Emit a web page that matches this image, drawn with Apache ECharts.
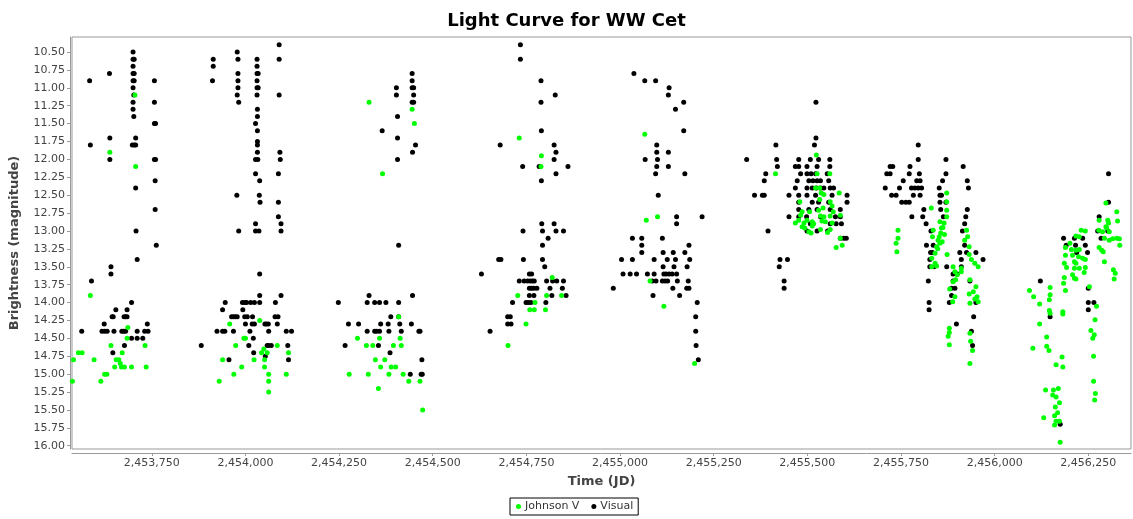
<!DOCTYPE html>
<html>
<head>
<meta charset="utf-8">
<title>Light Curve for WW Cet</title>
<script src="https://cdn.jsdelivr.net/npm/echarts@6/dist/echarts.min.js"></script>
<style>
  html, body { margin: 0; padding: 0; background: #fff; }
  #chart { width: 1133px; height: 519px; }
</style>
</head>
<body>
<div id="chart"></div>
<script>
// Tick labels
var xTicks = [2453750, 2454000, 2454250, 2454500, 2454750, 2455000, 2455250, 2455500, 2455750, 2456000, 2456250];
var yTicks = [10.5, 10.75, 11, 11.25, 11.5, 11.75, 12, 12.25, 12.5, 12.75, 13, 13.25, 13.5, 13.75,
    14, 14.25, 14.5, 14.75, 15, 15.25, 15.5, 15.75, 16];

// Johnson V observations [JD, magnitude]
var johnsonV = [
    [2453541, 14.8], [2453538, 15.1], [2453554, 14.7], [2453564, 14.7], [2453586, 13.9], [2453596, 14.8],
    [2453614, 15.1], [2453624, 15.0], [2453630, 15.0], [2453638, 11.9], [2453641, 14.6], [2453655, 14.8],
    [2453662, 14.8], [2453666, 14.85], [2453669, 14.9], [2453677, 14.9], [2453671, 14.7], [2453651, 14.9],
    [2453686, 14.35], [2453684, 14.5], [2453696, 14.9], [2453705, 11.1], [2453707, 12.1], [2453732, 14.6],
    [2453735, 14.9],
    [2453930, 15.1], [2453939, 14.8], [2453958, 14.3], [2453969, 15.0], [2453974, 14.6], [2453990, 14.9],
    [2453996, 14.5], [2454000, 14.5], [2454023, 14.8], [2454038, 14.25], [2454043, 14.7], [2454049, 14.65],
    [2454058, 14.7], [2454051, 14.8], [2454051, 14.9], [2454062, 15.0], [2454062, 15.1], [2454062, 15.25],
    [2454085, 14.6], [2454109, 15.0], [2454115, 14.7],
    [2454330, 11.2], [2454366, 12.2], [2454445, 11.3], [2454451, 11.5], [2454277, 15.0], [2454299, 14.5],
    [2454323, 14.6], [2454340, 14.6], [2454328, 15.0], [2454347, 14.8], [2454372, 14.8], [2454355, 15.2],
    [2454358, 14.5], [2454361, 14.9], [2454383, 15.0], [2454389, 14.9], [2454401, 14.9], [2454395, 14.6],
    [2454409, 14.2], [2454413, 14.5], [2454416, 14.6], [2454421, 15.0], [2454436, 15.1], [2454466, 15.1],
    [2454473, 15.5],
    [2454731, 11.7], [2454790, 11.95], [2454789, 12.1], [2454819, 13.65], [2454727, 13.9], [2454804, 13.9],
    [2454844, 13.9], [2454773, 14.0], [2454759, 14.1], [2454771, 14.1], [2454801, 14.1], [2454749, 14.3],
    [2454701, 14.6],
    [2455066, 11.65], [2455070, 12.85], [2455100, 12.8], [2455080, 13.7], [2455117, 14.05], [2455199, 14.85],
    [2455524, 11.94], [2455415, 12.2], [2455526, 12.2], [2455560, 12.2], [2455522, 12.4], [2455533, 12.4],
    [2455537, 12.47], [2455544, 12.49], [2455585, 12.47], [2455533, 12.56], [2455561, 12.59], [2455480, 12.59],
    [2455566, 12.65], [2455542, 12.68], [2455530, 12.71], [2455486, 12.73], [2455506, 12.73], [2455569, 12.73],
    [2455482, 12.78], [2455588, 12.78], [2455535, 12.79], [2455561, 12.79], [2455544, 12.8], [2455477, 12.85],
    [2455499, 12.85], [2455513, 12.87], [2455539, 12.86], [2455468, 12.89], [2455491, 12.89], [2455517, 12.9],
    [2455548, 12.87], [2455566, 12.89], [2455486, 12.94], [2455513, 12.93], [2455535, 12.98], [2455561, 12.98],
    [2455493, 12.96], [2455504, 13.01], [2455510, 13.03], [2455554, 13.02], [2455588, 13.1], [2455593, 13.2],
    [2455577, 13.23],
    [2455831, 12.68], [2455872, 12.47], [2455872, 12.59], [2455872, 12.71], [2455872, 12.8], [2455865, 12.89],
    [2455854, 12.87], [2455858, 12.96], [2455856, 13.03], [2455852, 13.08], [2455849, 13.13], [2455845, 13.22],
    [2455854, 13.17], [2455841, 13.31], [2455836, 12.99], [2455834, 13.08], [2455862, 12.95], [2455866, 13.05],
    [2455860, 13.15], [2455848, 13.25],
    [2455742, 12.99], [2455742, 13.1], [2455737, 13.17], [2455739, 13.29],
    [2455873, 13.33], [2455832, 13.38], [2455841, 13.45], [2455845, 13.49], [2455832, 13.5],
    [2455925, 12.99], [2455928, 13.08], [2455920, 13.13], [2455932, 13.22], [2455932, 13.33], [2455938, 13.4],
    [2455947, 13.45], [2455956, 13.5],
    [2455889, 13.5], [2455894, 13.57], [2455900, 13.61], [2455896, 13.68], [2455889, 13.71], [2455880, 13.81],
    [2455894, 13.92], [2455888, 13.99], [2455911, 13.52], [2455911, 13.57],
    [2455934, 13.68], [2455950, 13.78], [2455943, 13.85], [2455932, 13.88], [2455953, 13.92], [2455947, 13.95],
    [2455934, 14.01], [2455956, 13.99],
    [2455879, 14.36], [2455879, 14.42], [2455876, 14.47], [2455879, 14.59],
    [2455934, 14.43], [2455936, 14.54], [2455941, 14.67], [2455934, 14.85],
    [2456297, 12.61], [2456326, 12.73], [2456328, 12.86], [2456279, 12.85], [2456302, 12.85], [2456304, 12.89],
    [2456297, 12.94], [2456278, 12.99], [2456306, 13.01], [2456288, 13.01], [2456299, 12.96],
    [2456326, 13.1], [2456333, 13.11], [2456334, 13.2], [2456315, 13.11], [2456293, 13.1], [2456306, 13.13],
    [2456279, 13.23], [2456286, 13.27], [2456290, 13.29], [2456293, 13.43], [2456317, 13.54], [2456322, 13.59],
    [2456319, 13.67],
    [2456231, 12.99], [2456242, 13.0], [2456217, 13.07], [2456226, 13.08], [2456201, 13.17], [2456189, 13.23],
    [2456217, 13.27], [2456226, 13.26], [2456205, 13.26],
    [2456189, 13.34], [2456208, 13.34], [2456224, 13.36], [2456235, 13.38], [2456242, 13.4],
    [2456186, 13.45], [2456192, 13.51], [2456213, 13.43], [2456217, 13.45], [2456213, 13.52], [2456226, 13.52],
    [2456242, 13.51], [2456239, 13.58], [2456208, 13.61], [2456213, 13.66], [2456217, 13.67], [2456186, 13.65],
    [2456184, 13.73], [2456189, 13.83],
    [2456093, 13.83], [2456104, 13.92], [2456120, 14.02], [2456148, 13.79], [2456148, 13.89], [2456146, 13.96],
    [2456146, 14.11], [2456148, 14.15], [2456182, 14.13], [2456182, 14.16],
    [2456120, 14.3], [2456139, 14.48], [2456102, 14.64], [2456139, 14.61], [2456145, 14.67], [2456180, 14.76],
    [2456164, 14.87], [2456182, 14.9],
    [2456136, 15.22], [2456157, 15.22], [2456170, 15.2], [2456155, 15.29], [2456164, 15.32], [2456173, 15.4],
    [2456162, 15.46], [2456168, 15.54], [2456160, 15.58], [2456131, 15.61], [2456164, 15.66], [2456160, 15.71],
    [2456173, 15.66], [2456175, 15.95],
    [2456257, 14.39], [2456266, 14.45], [2456262, 14.5], [2456268, 14.24], [2456272, 14.05], [2456253, 13.78],
    [2456264, 14.75], [2456264, 15.1], [2456269, 15.27], [2456267, 15.36]
];

// Visual observations [JD, magnitude]
var visual = [
    [2453584, 10.9], [2453586, 11.8], [2453589, 13.7], [2453563, 14.4], [2453637, 10.8], [2453638, 11.7],
    [2453638, 12.0], [2453641, 13.5], [2453641, 13.6], [2453623, 14.3], [2453617, 14.4], [2453624, 14.4],
    [2453631, 14.4], [2453644, 14.2], [2453647, 14.2], [2453646, 14.7], [2453649, 14.4], [2453654, 14.1],
    [2453700, 10.5], [2453700, 10.6], [2453703, 10.6], [2453700, 10.7], [2453700, 10.8], [2453703, 10.8],
    [2453700, 10.9], [2453703, 10.9], [2453700, 11.0], [2453702, 11.1], [2453700, 11.2], [2453700, 11.3],
    [2453702, 11.4], [2453707, 11.7], [2453698, 11.8], [2453703, 11.8], [2453707, 11.8], [2453707, 12.4],
    [2453708, 13.0], [2453711, 13.4],
    [2453684, 14.1], [2453676, 14.2], [2453680, 14.2], [2453684, 14.2], [2453670, 14.4], [2453675, 14.4],
    [2453680, 14.4], [2453677, 14.6], [2453696, 14.0], [2453696, 14.5], [2453711, 14.5], [2453726, 14.5],
    [2453711, 14.4], [2453738, 14.3], [2453731, 14.4], [2453740, 14.4],
    [2453757, 10.9], [2453757, 11.2], [2453757, 11.5], [2453760, 11.5], [2453757, 12.0], [2453760, 12.0],
    [2453759, 12.3], [2453759, 12.7], [2453762, 13.2],
    [2453882, 14.6], [2453914, 10.6], [2453914, 10.7], [2453912, 10.9], [2453924, 14.4], [2453939, 14.4],
    [2453945, 14.4], [2453939, 14.1], [2453946, 14.0], [2453956, 14.8], [2453963, 14.2], [2453968, 14.2],
    [2453973, 14.2], [2453978, 14.2], [2453968, 14.4],
    [2453978, 10.5], [2453980, 10.6], [2453980, 10.8], [2453980, 10.9], [2453980, 11.0], [2453978, 11.1],
    [2453982, 11.2], [2453977, 12.5], [2453982, 13.0],
    [2453992, 14.0], [2453998, 14.0], [2454003, 14.0], [2454014, 14.0], [2454024, 14.0], [2453993, 14.1],
    [2453998, 14.2], [2454005, 14.2], [2454000, 14.3], [2454009, 14.6], [2454012, 14.4], [2454018, 14.3],
    [2454024, 14.3], [2454019, 14.2], [2454021, 14.5], [2454022, 14.7],
    [2454031, 10.6], [2454031, 10.7], [2454031, 10.8], [2454034, 10.8], [2454031, 10.9], [2454031, 11.0],
    [2454034, 11.0], [2454031, 11.1], [2454032, 11.3], [2454032, 11.4], [2454027, 11.5], [2454032, 11.6],
    [2454032, 11.75], [2454032, 11.8], [2454032, 11.9], [2454027, 12.0], [2454033, 12.0], [2454027, 12.2],
    [2454038, 12.3], [2454037, 12.5], [2454039, 12.6], [2454027, 12.9], [2454027, 13.0], [2454036, 13.0],
    [2454038, 13.6], [2454038, 13.9], [2454038, 14.0],
    [2454052, 14.3], [2454056, 14.3], [2454061, 14.3], [2454058, 14.6], [2454062, 14.6], [2454069, 14.6],
    [2454062, 14.4], [2454053, 14.75], [2454080, 14.0], [2454079, 14.2], [2454087, 14.2], [2454085, 14.3],
    [2454090, 10.4], [2454090, 10.6], [2454090, 11.1], [2454092, 11.9], [2454093, 12.0], [2454088, 12.2],
    [2454088, 12.6], [2454088, 12.8], [2454095, 12.9], [2454095, 13.0], [2454095, 13.9], [2454109, 14.4],
    [2454123, 14.4], [2454113, 14.6], [2454115, 14.8],
    [2454266, 14.6], [2454248, 14.0], [2454275, 14.3], [2454302, 14.3], [2454325, 14.4], [2454325, 14.0],
    [2454330, 13.9], [2454345, 14.0], [2454345, 14.4], [2454350, 14.4], [2454358, 14.0], [2454358, 14.4],
    [2454375, 14.0], [2454409, 14.0], [2454355, 14.6], [2454361, 14.3], [2454381, 14.3], [2454383, 14.4],
    [2454386, 14.7], [2454388, 14.2], [2454412, 14.3], [2454416, 14.4], [2454409, 14.2], [2454443, 14.3],
    [2454446, 13.9], [2454463, 14.4], [2454466, 14.4], [2454471, 14.8], [2454440, 15.0], [2454469, 15.0],
    [2454472, 15.0],
    [2454403, 11.0], [2454403, 11.1], [2454406, 11.4], [2454365, 11.6], [2454406, 11.7], [2454406, 12.0],
    [2454445, 10.8], [2454445, 10.9], [2454445, 11.0], [2454449, 11.0], [2454449, 11.1], [2454445, 11.2],
    [2454449, 11.2], [2454454, 11.8], [2454446, 11.9], [2454409, 13.2],
    [2454734, 10.4], [2454734, 10.6], [2454789, 10.9], [2454789, 11.2], [2454790, 11.6], [2454790, 12.3],
    [2454827, 11.1], [2454680, 11.8], [2454824, 11.8], [2454824, 12.0], [2454829, 11.9], [2454829, 12.2],
    [2454740, 12.1], [2454784, 12.1], [2454861, 12.1], [2454741, 13.0], [2454791, 12.9], [2454824, 12.9],
    [2454793, 13.0], [2454793, 13.2], [2454793, 13.4], [2454829, 13.0], [2454849, 13.0], [2454808, 13.1],
    [2454676, 13.4], [2454682, 13.4], [2454742, 13.4], [2454799, 13.5], [2454630, 13.6], [2454758, 13.6],
    [2454764, 13.6],
    [2454731, 13.7], [2454744, 13.7], [2454753, 13.7], [2454760, 13.7], [2454766, 13.7], [2454771, 13.7],
    [2454804, 13.7], [2454820, 13.7], [2454831, 13.7], [2454849, 13.7],
    [2454758, 13.8], [2454764, 13.8], [2454770, 13.8], [2454778, 13.8], [2454813, 13.8], [2454846, 13.8],
    [2454758, 13.9], [2454770, 13.9], [2454818, 13.9], [2454856, 13.9],
    [2454749, 14.0], [2454755, 14.0], [2454762, 14.0], [2454802, 14.0], [2454713, 14.0], [2454700, 14.2],
    [2454707, 14.2], [2454700, 14.3], [2454709, 14.3], [2454653, 14.4],
    [2455037, 10.8], [2455066, 10.9], [2455095, 10.9], [2455131, 11.0], [2455129, 11.1], [2455148, 11.3],
    [2455170, 11.2], [2455170, 11.6], [2455098, 11.8], [2455098, 11.9], [2455098, 12.1], [2455129, 11.9],
    [2455129, 12.1], [2455067, 12.0], [2455100, 12.0], [2455095, 12.2], [2455173, 12.2], [2455102, 12.5],
    [2455151, 12.8], [2455151, 12.9], [2455219, 12.8],
    [2455033, 13.1], [2455058, 13.1], [2455113, 13.1], [2455058, 13.2], [2455184, 13.2], [2455058, 13.3],
    [2455115, 13.3], [2455142, 13.3], [2455173, 13.3],
    [2455004, 13.4], [2455033, 13.4], [2455091, 13.4], [2455126, 13.4], [2455148, 13.4], [2455186, 13.4],
    [2455115, 13.5], [2455144, 13.5], [2455179, 13.5],
    [2455008, 13.6], [2455027, 13.6], [2455044, 13.6], [2455073, 13.6], [2455091, 13.6], [2455117, 13.6],
    [2455123, 13.6], [2455131, 13.6], [2455139, 13.6], [2455151, 13.6],
    [2455086, 13.7], [2455096, 13.7], [2455113, 13.7], [2455120, 13.7], [2455127, 13.7], [2455153, 13.7],
    [2455182, 13.7], [2454982, 13.8], [2455141, 13.8], [2455178, 13.8], [2455184, 13.8], [2455088, 13.9],
    [2455159, 13.9], [2455206, 14.0], [2455202, 14.2], [2455202, 14.4], [2455203, 14.6], [2455209, 14.8],
    [2455338, 12.0], [2455359, 12.5], [2455380, 12.5], [2455385, 12.5], [2455389, 12.2], [2455385, 12.3],
    [2455395, 13.0], [2455427, 13.4], [2455447, 13.4], [2455425, 13.5], [2455438, 13.7], [2455438, 13.8],
    [2455523, 11.2], [2455523, 11.7], [2455519, 11.8], [2455416, 11.8], [2455418, 12.0],
    [2455477, 12.0], [2455508, 12.0], [2455530, 12.0], [2455560, 12.0],
    [2455420, 12.1], [2455468, 12.1], [2455477, 12.1], [2455499, 12.1], [2455526, 12.1], [2455560, 12.1],
    [2455482, 12.2], [2455499, 12.2], [2455510, 12.2], [2455522, 12.2], [2455553, 12.2],
    [2455473, 12.3], [2455504, 12.3], [2455515, 12.3], [2455526, 12.3], [2455535, 12.3], [2455557, 12.3],
    [2455468, 12.4], [2455499, 12.4], [2455513, 12.4], [2455524, 12.4], [2455535, 12.4], [2455544, 12.4],
    [2455561, 12.4], [2455570, 12.4],
    [2455451, 12.5], [2455477, 12.5], [2455499, 12.5], [2455522, 12.5], [2455566, 12.5], [2455606, 12.5],
    [2455477, 12.6], [2455513, 12.6], [2455530, 12.6], [2455557, 12.6], [2455606, 12.6],
    [2455477, 12.7], [2455504, 12.7], [2455526, 12.7], [2455561, 12.7], [2455588, 12.7],
    [2455451, 12.8], [2455477, 12.8], [2455498, 12.8], [2455535, 12.8], [2455575, 12.8], [2455588, 12.8],
    [2455508, 12.9], [2455561, 12.9], [2455577, 12.9], [2455591, 12.9],
    [2455499, 13.0], [2455526, 13.0], [2455554, 13.0], [2455588, 13.1], [2455597, 13.1], [2455604, 13.1],
    [2455796, 11.8], [2455796, 12.0], [2455870, 12.0],
    [2455721, 12.1], [2455728, 12.1], [2455774, 12.1], [2455916, 12.1],
    [2455712, 12.2], [2455721, 12.2], [2455772, 12.2], [2455799, 12.2], [2455870, 12.2],
    [2455756, 12.3], [2455792, 12.3], [2455801, 12.3], [2455861, 12.3], [2455927, 12.3],
    [2455708, 12.4], [2455746, 12.4], [2455778, 12.4], [2455787, 12.4], [2455796, 12.4], [2455805, 12.4],
    [2455852, 12.4], [2455930, 12.4],
    [2455725, 12.5], [2455737, 12.5], [2455783, 12.5], [2455801, 12.5], [2455854, 12.5], [2455858, 12.5],
    [2455752, 12.6], [2455763, 12.6], [2455772, 12.6], [2455854, 12.6], [2455870, 12.6],
    [2455811, 12.7], [2455856, 12.7], [2455927, 12.7],
    [2455779, 12.8], [2455808, 12.8], [2455863, 12.8], [2455923, 12.8],
    [2455817, 12.9], [2455920, 12.9], [2455830, 13.0], [2455914, 13.0],
    [2455818, 13.2], [2455836, 13.2], [2455920, 13.2],
    [2455829, 13.3], [2455834, 13.3], [2455907, 13.3], [2455925, 13.3], [2455950, 13.3],
    [2455827, 13.4], [2455911, 13.4], [2455969, 13.4],
    [2455827, 13.5], [2455838, 13.5], [2455872, 13.5], [2455911, 13.5],
    [2455889, 13.6], [2455900, 13.6], [2455823, 13.7], [2455889, 13.7], [2455934, 13.7],
    [2455885, 13.8], [2455894, 13.8], [2455885, 13.9],
    [2455879, 14.0], [2455950, 14.0], [2455825, 14.0], [2455825, 14.1],
    [2455944, 14.2], [2455898, 14.3], [2455938, 14.4], [2455941, 14.6],
    [2456304, 12.2], [2456304, 12.6], [2456279, 12.8], [2456275, 13.0], [2456302, 13.0], [2456284, 13.1],
    [2456184, 13.1], [2456213, 13.1], [2456235, 13.1], [2456191, 13.2], [2456216, 13.2], [2456242, 13.2],
    [2456219, 13.3], [2456248, 13.3],
    [2456122, 13.7], [2456250, 13.8], [2456250, 14.0], [2456265, 14.0], [2456250, 14.1], [2456148, 14.2],
    [2456175, 15.7]
];

var chart = echarts.init(document.getElementById('chart'));

var axisFont = 'DejaVu Sans';

var option = {
    backgroundColor: '#fff',
    animation: false,
    title: {
        text: 'Light Curve for WW Cet',
        left: 'center',
        top: 7,
        textStyle: { fontFamily: axisFont, fontSize: 18, fontWeight: 'bold', color: '#000' }
    },
    legend: {
        data: ['Johnson V', 'Visual'],
        left: 510,
        top: 498,
        icon: 'circle',
        itemWidth: 5,
        itemHeight: 5,
        itemGap: 12,
        padding: [3, 5, 3, 6],
        borderColor: '#000',
        borderWidth: 1,
        borderRadius: 0,
        textStyle: { fontFamily: axisFont, fontSize: 11, color: '#333', padding: [0, 0, 0, -1] }
    },
    grid: {
        left: 69,
        right: 2,
        top: 37,
        bottom: 70,
        show: true,
        borderColor: '#999',
        borderWidth: 1
    },
    xAxis: {
        type: 'value',
        min: 2453537,
        max: 2456364,
        offset: 4,
        name: 'Time (JD)',
        nameLocation: 'middle',
        nameGap: 22,
        nameTextStyle: { fontFamily: axisFont, fontSize: 13, fontWeight: 'bold', color: '#444' },
        axisLine: { show: true, lineStyle: { color: '#999' } },
        axisTick: { show: true, length: 3, customValues: xTicks, lineStyle: { color: '#999' } },
        axisLabel: {
            customValues: xTicks,
            margin: 5,
            fontFamily: axisFont,
            fontSize: 11,
            color: '#444',
            formatter: function (v) { return Math.round(v).toLocaleString('en-US'); }
        },
        splitLine: { show: false }
    },
    yAxis: {
        type: 'value',
        inverse: true,
        min: 10.29,
        max: 16.046,
        offset: 2,
        name: 'Brightness (magnitude)',
        nameLocation: 'middle',
        nameGap: 49,
        nameTextStyle: { fontFamily: axisFont, fontSize: 13, fontWeight: 'bold', color: '#444' },
        axisLine: { show: true, lineStyle: { color: '#999' } },
        axisTick: { show: true, length: 3, customValues: yTicks, lineStyle: { color: '#999' } },
        axisLabel: {
            customValues: yTicks,
            margin: 5,
            fontFamily: axisFont,
            fontSize: 11,
            color: '#444',
            formatter: function (v) { return v.toFixed(2); }
        },
        splitLine: { show: false }
    },
    series: [
        {
            name: 'Johnson V',
            type: 'scatter',
            data: johnsonV,
            symbol: 'circle',
            symbolSize: 5,
            z: 3,
            itemStyle: { color: '#00ff00', opacity: 1 }
        },
        {
            name: 'Visual',
            type: 'scatter',
            data: visual,
            symbol: 'circle',
            symbolSize: 5,
            z: 2,
            itemStyle: { color: '#000000', opacity: 1 }
        }
    ]
};

chart.setOption(option);
</script>
</body>
</html>
